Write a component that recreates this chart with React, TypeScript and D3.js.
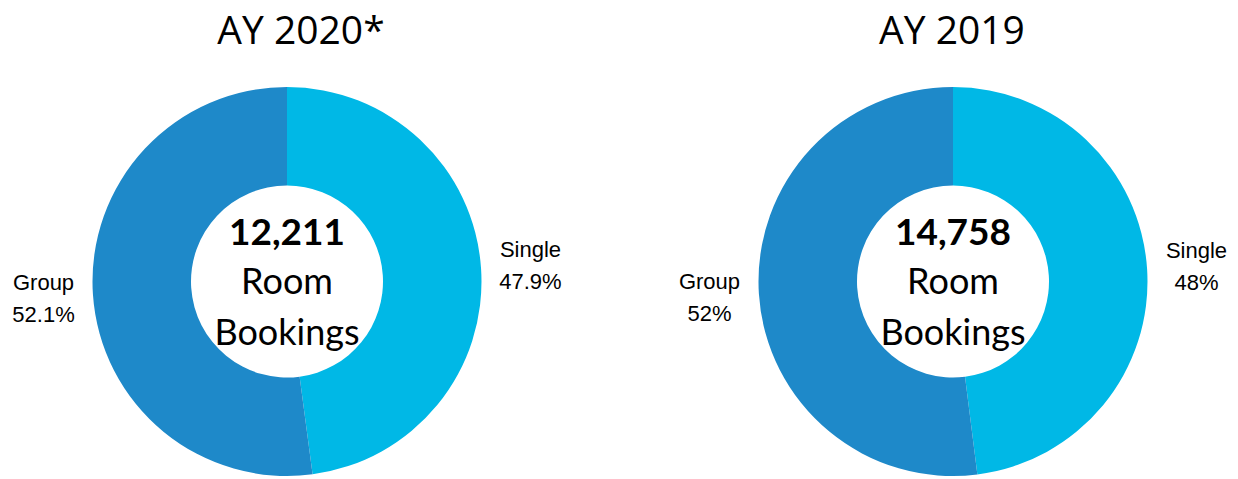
import React from "react";
import * as d3 from "d3";

const categories = ["Single", "Group"];
const years = ["AY 2020*", "AY 2019"];
const values2020 = [47.9, 52.1];
const values2019 = [48, 52];
const pctLabels2020 = ["47.9%", "52.1%"];
const pctLabels2019 = ["48%", "52%"];
const totals = ["12,211", "14,758"];
const colors = ["#00B8E6", "#1E89C9"];

const W = 1238;
const H = 479;

function Donut({ cx, title, titleX, values, labels, total }: any) {
  const cy = 281.5;
  const outer = 194.5;
  const inner = 96;
  const pie = d3.pie<number>().sort(null).value((d) => d);
  const arcs = pie(values);
  const arc = d3.arc<any>().innerRadius(inner).outerRadius(outer);
  const labelArc = d3.arc<any>().innerRadius(244).outerRadius(244);
  return (
    <g>
      <text x={titleX} y={44} textAnchor="middle" fontFamily="'Open Sans', sans-serif" fontSize={39} fill="#000">
        {title}
      </text>
      <g transform={`translate(${cx},${cy})`}>
        {arcs.map((a, i) => (
          <path key={i} d={arc(a) as string} fill={colors[i]} />
        ))}
        {arcs.map((a, i) => {
          const [lx, ly] = labelArc.centroid(a);
          return (
            <text key={"l" + i} x={lx} y={ly} textAnchor="middle" fontFamily="'Liberation Sans', Arial, sans-serif" fontSize={22} fill="#000">
              <tspan x={lx} dy={-8}>{categories[i]}</tspan>
              <tspan x={lx} dy={32}>{labels[i]}</tspan>
            </text>
          );
        })}
        <text x={0} y={245 - cy} textAnchor="middle" fontFamily="Lato, sans-serif" fontWeight="bold" fontSize={37} fill="#000">
          {total}
        </text>
        <text x={0} y={294 - cy} textAnchor="middle" fontFamily="Lato, sans-serif" fontSize={36} fill="#000">
          Room
        </text>
        <text x={0} y={345 - cy} textAnchor="middle" fontFamily="Lato, sans-serif" fontSize={36} fill="#000">
          Bookings
        </text>
      </g>
    </g>
  );
}

export default function App() {
  return (
    <svg width={W} height={H} style={{ position: "absolute", left: 0, top: 0, background: "#fff" }}>
      <Donut cx={287} title={years[0]} titleX={301} values={values2020} labels={pctLabels2020} total={totals[0]} />
      <Donut cx={953} title={years[1]} titleX={952} values={values2019} labels={pctLabels2019} total={totals[1]} />
    </svg>
  );
}
